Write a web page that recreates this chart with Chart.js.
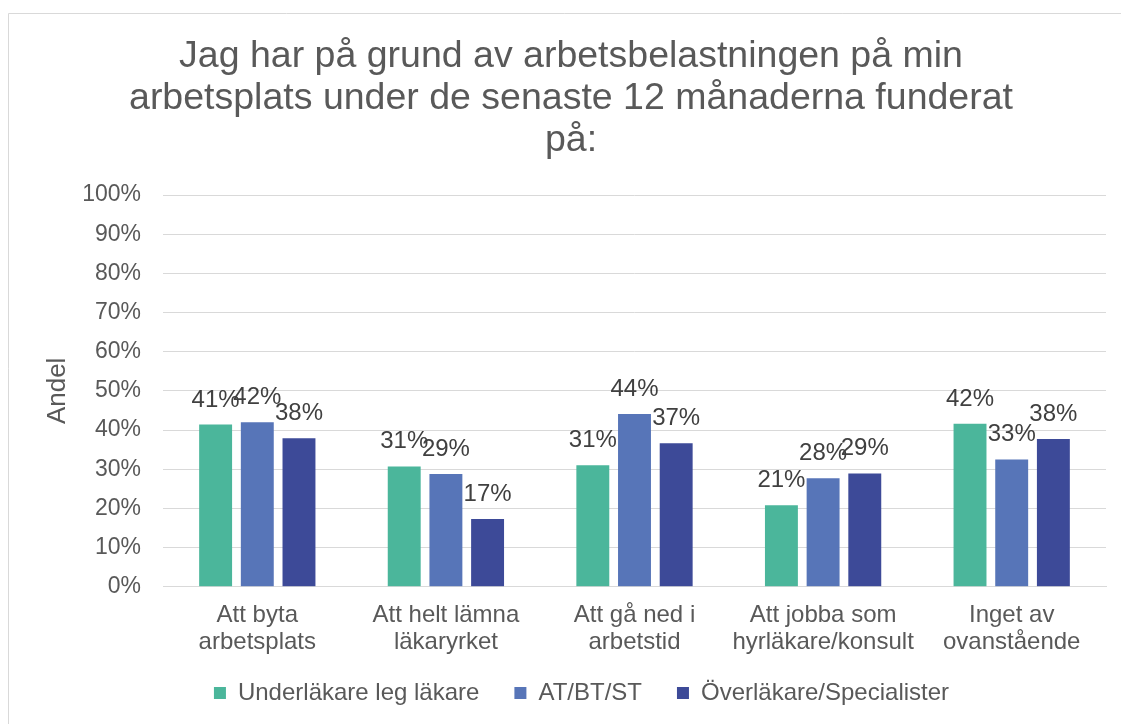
<!DOCTYPE html>
<html>
<head>
<meta charset="utf-8">
<script src="https://cdn.jsdelivr.net/npm/chart.js@4.4.1/dist/chart.umd.min.js"></script>
<style>
  html, body { margin: 0; padding: 0; background: #ffffff; }
  #c { display: block; }
</style>
</head>
<body>
<canvas id="c" width="1121" height="724"></canvas>
<script>
const titleLines = ["Jag har på grund av arbetsbelastningen på min", "arbetsplats under de senaste 12 månaderna funderat", "på:"];
const categories = [["Att byta", "arbetsplats"], ["Att helt lämna", "läkaryrket"], ["Att gå ned i", "arbetstid"], ["Att jobba som", "hyrläkare/konsult"], ["Inget av", "ovanstående"]];
const seriesNames = ["Underläkare leg läkare", "AT/BT/ST", "Överläkare/Specialister"];
const underlakare = [41.4, 30.7, 31.0, 20.8, 41.6];
const atbtst = [42.0, 28.8, 44.1, 27.7, 32.5];
const overlakare = [37.9, 17.3, 36.6, 28.9, 37.7];
const yTicks = [0, 10, 20, 30, 40, 50, 60, 70, 80, 90, 100];
const yAxisTitle = "Andel";

const FONT = "'Liberation Sans', Arial, sans-serif";
const colors = ["#4BB69B", "#5775B8", "#3D4A98"];

const frame = {
  id: 'frame',
  beforeDraw(chart) {
    const ctx = chart.ctx;
    ctx.save();
    ctx.fillStyle = '#ffffff';
    ctx.fillRect(0, 0, chart.width, chart.height);
    ctx.strokeStyle = '#d9d9d9';
    ctx.lineWidth = 1;
    ctx.beginPath();
    ctx.moveTo(8.5, chart.height);
    ctx.lineTo(8.5, 13.5);
    ctx.lineTo(chart.width, 13.5);
    ctx.stroke();
    ctx.restore();
  }
};

// nudge the legend box to the reference position
const legendShift = {
  id: 'legendShift',
  afterLayout(chart) {
    const lg = chart.legend;
    if (!lg) return;
    lg.top -= 10.4; lg.bottom -= 10.4;
    lg.left += 10.5; lg.right += 10.5;
  }
};

const dataLabels = {
  id: 'dataLabels',
  afterDatasetsDraw(chart) {
    const ctx = chart.ctx;
    ctx.save();
    ctx.font = "24px " + FONT;
    ctx.fillStyle = '#404040';
    ctx.textAlign = 'center';
    ctx.textBaseline = 'alphabetic';
    chart.data.datasets.forEach((ds, di) => {
      const meta = chart.getDatasetMeta(di);
      meta.data.forEach((bar, i) => {
        ctx.fillText(Math.round(ds.data[i]) + '%', bar.x, bar.y - 18);
      });
    });
    ctx.restore();
  }
};

new Chart(document.getElementById('c'), {
  type: 'bar',
  data: {
    labels: categories,
    datasets: [
      { label: seriesNames[0], data: underlakare, backgroundColor: colors[0] },
      { label: seriesNames[1], data: atbtst, backgroundColor: colors[1] },
      { label: seriesNames[2], data: overlakare, backgroundColor: colors[2] }
    ]
  },
  options: {
    responsive: false,
    devicePixelRatio: 1,
    animation: false,
    layout: { padding: { top: 14, left: 36, right: 15, bottom: -1.4 } },
    datasets: { bar: { categoryPercentage: 0.663, barPercentage: 0.79 } },
    scales: {
      x: {
        afterFit(scale) { scale.height = 69.7; },
        grid: { display: false, drawTicks: false },
        border: { display: true, color: '#d9d9d9', width: 1 },
        ticks: {
          color: '#595959',
          font: { family: FONT, size: 24, lineHeight: 1.15 },
          padding: 14.5,
          maxRotation: 0,
          autoSkip: false
        }
      },
      y: {
        min: 0,
        max: 100,
        afterFit(scale) { scale.width = 127; },
        afterBuildTicks(scale) { scale.ticks = yTicks.map(v => ({ value: v })); },
        grid: { color: '#d9d9d9', lineWidth: 1, drawTicks: false },
        border: { display: false },
        ticks: {
          color: '#595959',
          font: { family: FONT, size: 23 },
          padding: 22,
          callback: v => v + '%'
        },
        title: {
          display: true,
          text: yAxisTitle,
          color: '#595959',
          font: { family: FONT, size: 26, lineHeight: 1.2 },
          padding: { top: 6.5, bottom: 0 }
        }
      }
    },
    plugins: {
      title: {
        display: true,
        text: titleLines,
        color: '#595959',
        font: { family: FONT, size: 37.5, weight: 'normal', lineHeight: 1.12 },
        padding: { top: 22, bottom: 33 }
      },
      legend: {
        position: 'bottom',
        labels: {
          color: '#595959',
          font: { family: FONT, size: 24 },
          boxWidth: 12,
          boxHeight: 12,
          padding: 35
        }
      },
      tooltip: { enabled: false }
    }
  },
  plugins: [frame, legendShift, dataLabels]
});
</script>
</body>
</html>
